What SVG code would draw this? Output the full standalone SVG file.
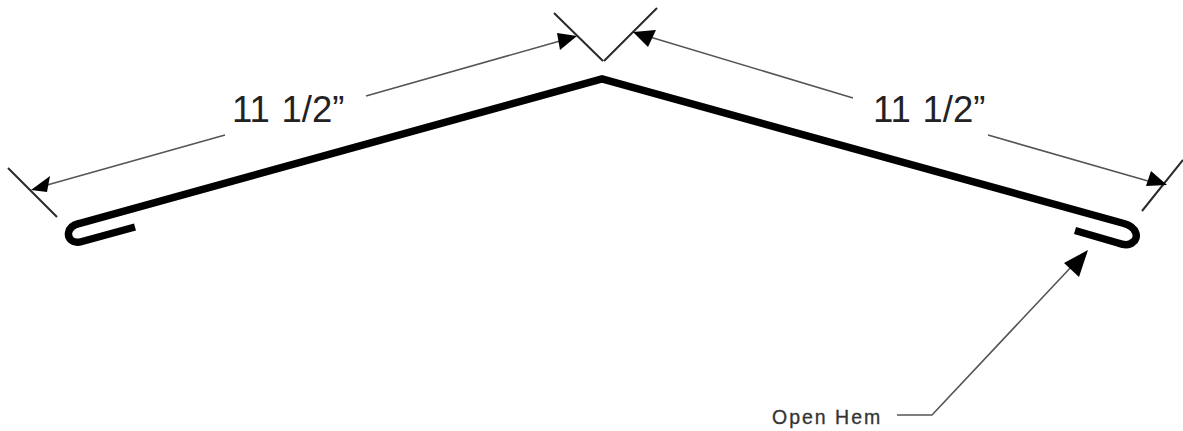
<svg xmlns="http://www.w3.org/2000/svg" width="1183" height="431" viewBox="0 0 1183 431">
<style>
.bg{fill:#fff}
.profile{fill:none;stroke:#000;stroke-width:7.500;stroke-linejoin:miter;stroke-linecap:butt}
.tick{fill:none;stroke:#2a2a2a;stroke-width:2}
.dim{fill:none;stroke:#555;stroke-width:1.600}
.head{fill:#000}
.t{font-family:"Liberation Sans",Arial,sans-serif;fill:#222}
.big{font-size:36.500px;word-spacing:1.500px}
.small{font-size:19.500px;letter-spacing:2px;fill:#333;stroke:#333;stroke-width:.3}
</style>
<rect class="bg" width="1183" height="431"/>
<g id="profile">
<path class="profile" d="M135 227L82 241.500C72 244.500 68 238 68.500 233C69 228 73 225 79 223.500L602 79L1124 223.500C1137 227 1139 238 1133 242C1129 246 1122 244.500 1118 243L1075 230.500"/>
</g>
<g id="connectors">
<path class="tick" d="M8 168L57 217M554 13L603 61M657 8L604 61M1142 211L1183 160"/>
<path class="dim" d="M40 187L225 135M366 96L560 41M650 37L853 98M988 135L1155 183M1073 265L932 415H897"/>
<path class="head" d="M31 190L50 176L47 192Z"/>
<path class="head" d="M577 36L557 33L560 50Z"/>
<path class="head" d="M633 32L656 30L648 47Z"/>
<path class="head" d="M1167 185L1151 171L1146 186Z"/>
<path class="head" d="M1088 250L1064 263L1079 277Z"/>
</g>
<g id="label-left"><text class="t big" x="232" y="122">11 1/2”</text></g>
<g id="label-right"><text class="t big" x="873" y="122">11 1/2”</text></g>
<g id="label-hem"><text class="t small" x="772" y="424">Open Hem</text></g>
</svg>
